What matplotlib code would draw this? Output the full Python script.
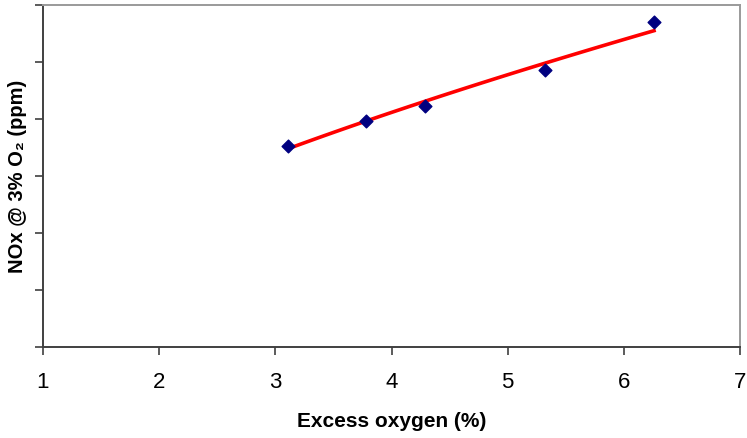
import numpy as np
import matplotlib
matplotlib.use("Agg")
import matplotlib.pyplot as plt

# -------------------------
# DATA
# -------------------------
excess_o2 = [3.11, 3.78, 4.29, 5.32, 6.26]
nox_ppm = [35.3, 39.7, 42.3, 48.6, 57.0]

x_ticks = [1, 2, 3, 4, 5, 6, 7]
y_ticks = [0, 10, 20, 30, 40, 50, 60]

# power trendline (like the spreadsheet one), fitted to the points
b, ln_a = np.polyfit(np.log(excess_o2), np.log(nox_ppm), 1)
x_fit = np.linspace(min(excess_o2), max(excess_o2), 100)
y_fit = np.exp(ln_a) * x_fit ** b

plt.rcParams["font.family"] = ["Liberation Sans", "DejaVu Sans"]

# -------------------------
# PLOT
# -------------------------
fig = plt.figure(figsize=(7.47, 4.38), dpi=100)
ax = fig.add_axes([43 / 747, 91 / 438, 697 / 747, 342 / 438])

ax.plot(x_fit, y_fit, color="#ff0000", lw=2.6, zorder=2)
ax.scatter(excess_o2, nox_ppm, marker="D", s=42, color="#000080", zorder=3)

ax.set_xlim(1, 7)
ax.set_ylim(0, 60)
ax.set_xticks(x_ticks)
ax.set_yticks(y_ticks)
ax.set_yticklabels([])

ax.tick_params(axis="both", direction="out", length=6, width=1.2, color="#404040")
ax.tick_params(axis="x", pad=12, labelsize=16)

for side in ["left", "bottom"]:
    ax.spines[side].set_color("#404040")
    ax.spines[side].set_linewidth(1.4)
for side in ["top", "right"]:
    ax.spines[side].set_color("#9a9a9a")
    ax.spines[side].set_linewidth(1.4)

ax.set_xlabel("Excess oxygen (%)", fontsize=15, fontweight="bold", va="center")
ax.xaxis.set_label_coords(0.5, -0.219)
ax.set_ylabel("NOx @ 3% O\u2082 (ppm)", fontsize=14.5, fontweight="bold", va="center")
ax.yaxis.set_label_coords(-0.037, 0.5)

fig.savefig("out.png", dpi=100)
